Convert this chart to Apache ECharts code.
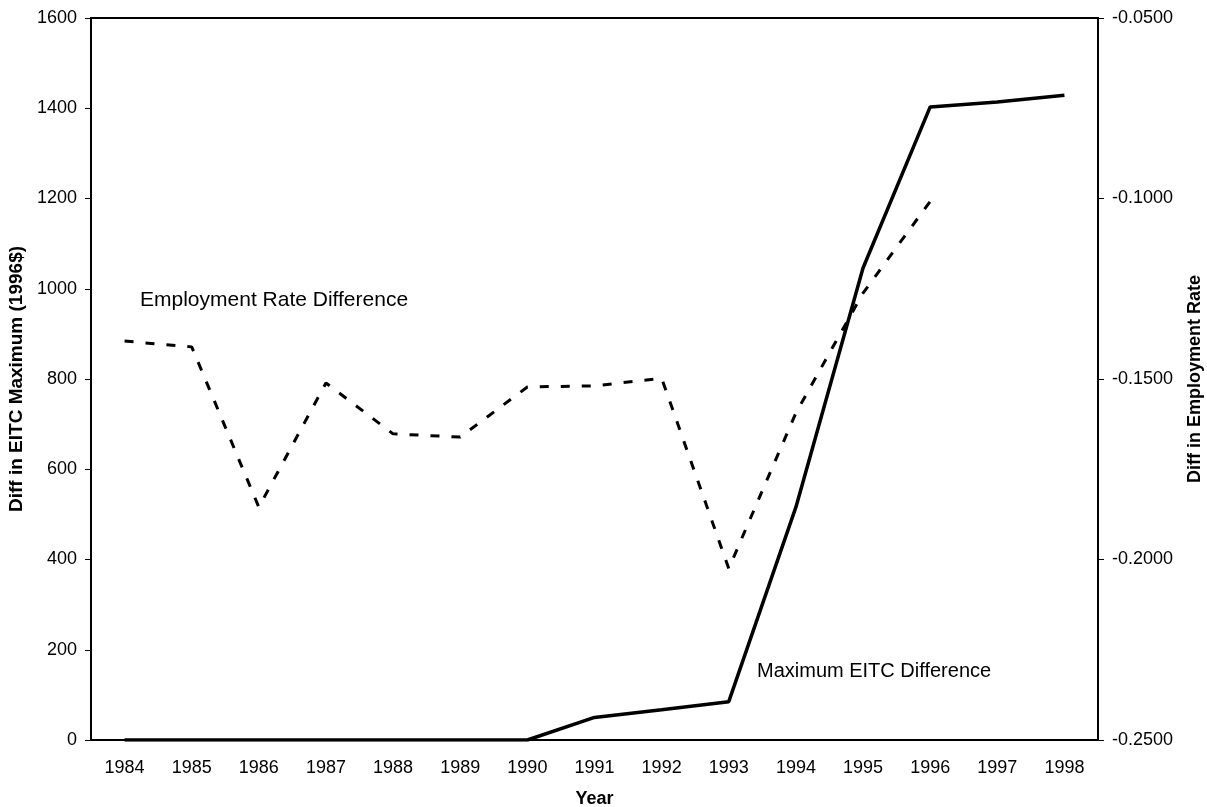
<!DOCTYPE html>
<html>
<head>
<meta charset="utf-8">
<script src="https://cdn.jsdelivr.net/npm/echarts@6/dist/echarts.min.js"></script>
<style>
  html, body { margin: 0; padding: 0; background: #fff; }
  #chart { width: 1207px; height: 807px; }
</style>
</head>
<body>
<div id="chart"></div>
<script>
// categorias (anos)
var years = ['1984', '1985', '1986', '1987', '1988', '1989', '1990', '1991',
             '1992', '1993', '1994', '1995', '1996', '1997', '1998'];

// diferenca no maximo do EITC (1996$) - eixo esquerdo
var eitcDiff = [0, 0, 0, 0, 0, 0, 0, 50, 67, 85, 516, 1046, 1403, 1414, 1429];

// diferenca na taxa de emprego - eixo direito (ate 1996)
var empDiff = [-0.1395, -0.1411, -0.1855, -0.1511, -0.1652, -0.1661, -0.1522,
               -0.1519, -0.1498, -0.2025, -0.1594, -0.1262, -0.1008];

var font = 'Liberation Sans, Arial, sans-serif';

var chart = echarts.init(document.getElementById('chart'));

var option = {
    backgroundColor: '#ffffff',
    animation: false,
    textStyle: { fontFamily: font, color: '#000' },
    grid: {
        left: 91, right: 109, top: 18, bottom: 67,
        outerBoundsMode: 'none',
        containLabel: false,
        show: true, borderColor: '#000', borderWidth: 2
    },
    xAxis: {
        type: 'category',
        data: years,
        boundaryGap: true,
        name: 'Year',
        nameLocation: 'middle',
        nameGap: 50,
        nameTextStyle: { fontFamily: font, fontWeight: 'bold', fontSize: 18, color: '#000' },
        axisLine: { lineStyle: { color: '#000', width: 2 } },
        axisTick: { alignWithLabel: false, length: 6, lineStyle: { color: '#000' } },
        axisLabel: { fontFamily: font, fontSize: 18, color: '#000', margin: 19 },
        splitLine: { show: false }
    },
    yAxis: [{
        type: 'value',
        min: 0, max: 1600, interval: 200,
        name: 'Diff in EITC Maximum (1996$)',
        nameLocation: 'middle',
        nameGap: 64,
        nameTextStyle: { fontFamily: font, fontWeight: 'bold', fontSize: 19, color: '#000' },
        axisLine: { show: true, lineStyle: { color: '#000', width: 2 } },
        axisTick: { show: true, length: 6, lineStyle: { color: '#000' } },
        axisLabel: {
            fontFamily: font, fontSize: 18, color: '#000', margin: 14,
            formatter: function (v) { return String(v); }
        },
        splitLine: { show: false }
    }, {
        type: 'value',
        position: 'right',
        min: -0.25, max: -0.05, interval: 0.05,
        name: 'Diff in Employment Rate',
        nameLocation: 'middle',
        nameGap: 88,
        nameRotate: 90,
        nameTextStyle: { fontFamily: font, fontWeight: 'bold', fontSize: 18, color: '#000' },
        axisLine: { show: true, lineStyle: { color: '#000', width: 2 } },
        axisTick: { show: true, length: 6, lineStyle: { color: '#000' } },
        axisLabel: {
            fontFamily: font, fontSize: 18, color: '#000', margin: 14,
            formatter: function (v) { return v.toFixed(4); }
        },
        splitLine: { show: false }
    }],
    series: [{
        name: 'Maximum EITC Difference',
        type: 'line',
        yAxisIndex: 0,
        data: eitcDiff,
        symbol: 'none',
        lineStyle: { color: '#000', width: 3.5 }
    }, {
        name: 'Employment Rate Difference',
        type: 'line',
        yAxisIndex: 1,
        data: empDiff,
        symbol: 'none',
        lineStyle: { color: '#000', width: 3, type: [9, 12] }
    }],
    graphic: [{
        type: 'text',
        left: 140, top: 290,
        style: { text: 'Employment Rate Difference', font: '21px ' + font, fill: '#000' }
    }, {
        type: 'text',
        left: 757, top: 661,
        style: { text: 'Maximum EITC Difference', font: '20px ' + font, fill: '#000' }
    }]
};

chart.setOption(option);
</script>
</body>
</html>
